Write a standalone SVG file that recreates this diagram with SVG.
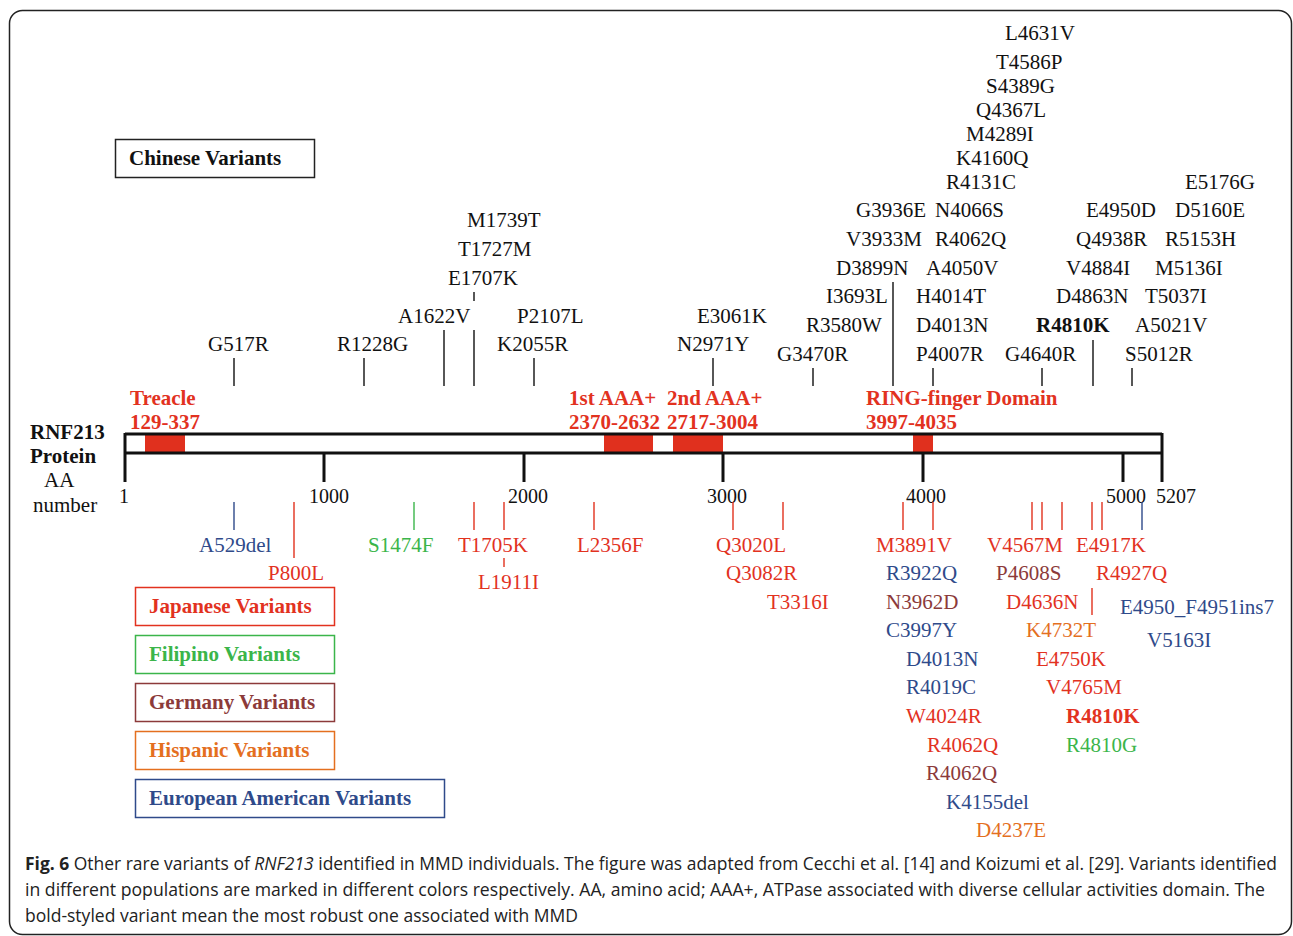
<svg xmlns="http://www.w3.org/2000/svg" width="1293" height="936" viewBox="0 0 1293 936">
<style>
text{font-family:"Liberation Serif","Times New Roman",serif;font-size:21px;fill:#111}
.b{font-weight:bold}
.r{fill:#e2321f}.g{fill:#3bb54a}.br{fill:#8c3a3a}.o{fill:#e46f1f}.bl{fill:#2f4a8a}
.dom{font-weight:bold;fill:#e2321f;font-size:21px}
.leg{font-weight:bold;font-size:21px}
.tick{font-size:20px}
.ln{stroke:#111;stroke-width:1.4;fill:none}
.lr{stroke:#e2321f;stroke-width:1.4}.lg{stroke:#3bb54a;stroke-width:1.4}.lb{stroke:#2f4a8a;stroke-width:1.4}
.cap{font-family:"Open Sans","Liberation Sans",sans-serif;font-size:17.5px;fill:#222}
</style>
<rect x="9.5" y="10.5" width="1282" height="924" rx="13" fill="#fff" stroke="#222" stroke-width="1.5"/>

<g id="protein">
<rect x="145" y="434" width="40" height="19" fill="#e0301e"/>
<rect x="604" y="434" width="49" height="19" fill="#e0301e"/>
<rect x="673" y="434" width="50" height="19" fill="#e0301e"/>
<rect x="913" y="434" width="20" height="19" fill="#e0301e"/>
<path d="M125 434H1162M125 453H1162M125 433V482M1162 433V482M324 453V482M524 453V482M723 453V482M923 453V482M1123 453V482" stroke="#111" stroke-width="3" fill="none"/>
<text x="30" y="439" class="b">RNF213</text>
<text x="30" y="463" class="b">Protein</text>
<text x="44" y="487">AA</text>
<text x="33" y="512">number</text>
<text x="119" y="503" class="tick">1</text>
<text x="309" y="503" class="tick">1000</text>
<text x="508" y="503" class="tick">2000</text>
<text x="707" y="503" class="tick">3000</text>
<text x="906" y="503" class="tick">4000</text>
<text x="1106" y="503" class="tick">5000</text>
<text x="1156" y="503" class="tick">5207</text>
</g>

<g id="domains">
<text x="130" y="405" class="dom">Treacle</text>
<text x="130" y="429" class="dom">129-337</text>
<text x="569" y="405" class="dom">1st AAA+</text>
<text x="569" y="429" class="dom">2370-2632</text>
<text x="667" y="405" class="dom">2nd AAA+</text>
<text x="667" y="429" class="dom">2717-3004</text>
<text x="866" y="405" class="dom">RING-finger Domain</text>
<text x="866" y="429" class="dom">3997-4035</text>
</g>

<g id="connectors">
<path class="ln" d="M234 358V386M364 358V386M444 330V386M474 292V301M474 330V386M534 358V386M713 358V386M813 368V386M893 282V386M933 368V386M1042 368V386M1093 340V386M1132 368V386"/>
<path class="lb" d="M234 502V530M1142 502V530"/>
<path class="lg" d="M414 502V530"/>
<path class="lr" d="M294 502V558M474 502V530M504 502V530M504 558V567M594 502V530M733 502V530M783 502V530M903 502V530M933 502V530M1032 502V530M1042 502V530M1062 502V530M1092 502V530M1102 502V530M1092 588V615"/>
</g>

<g id="chinese-variants">
<text x="208" y="351">G517R</text>
<text x="337" y="351">R1228G</text>
<text x="398" y="323">A1622V</text>
<text x="448" y="285">E1707K</text>
<text x="458" y="256">T1727M</text>
<text x="467" y="227">M1739T</text>
<text x="517" y="323">P2107L</text>
<text x="497" y="351">K2055R</text>
<text x="697" y="323">E3061K</text>
<text x="677" y="351">N2971Y</text>
<text x="777" y="361">G3470R</text>
<text x="806" y="332">R3580W</text>
<text x="826" y="303">I3693L</text>
<text x="836" y="275">D3899N</text>
<text x="846" y="246">V3933M</text>
<text x="856" y="217">G3936E</text>
<text x="935" y="217">N4066S</text>
<text x="935" y="246">R4062Q</text>
<text x="926" y="275">A4050V</text>
<text x="916" y="303">H4014T</text>
<text x="916" y="332">D4013N</text>
<text x="916" y="361">P4007R</text>
<text x="946" y="189">R4131C</text>
<text x="956" y="165">K4160Q</text>
<text x="966" y="141">M4289I</text>
<text x="976" y="117">Q4367L</text>
<text x="986" y="93">S4389G</text>
<text x="996" y="69">T4586P</text>
<text x="1005" y="40">L4631V</text>
<text x="1005" y="361">G4640R</text>
<text x="1036" y="332" class="b">R4810K</text>
<text x="1056" y="303">D4863N</text>
<text x="1066" y="275">V4884I</text>
<text x="1076" y="246">Q4938R</text>
<text x="1086" y="217">E4950D</text>
<text x="1125" y="361">S5012R</text>
<text x="1135" y="332">A5021V</text>
<text x="1145" y="303">T5037I</text>
<text x="1155" y="275">M5136I</text>
<text x="1165" y="246">R5153H</text>
<text x="1175" y="217">D5160E</text>
<text x="1185" y="189">E5176G</text>
</g>

<g id="other-variants">
<text x="199" y="552" class="bl">A529del</text>
<text x="268" y="580" class="r">P800L</text>
<text x="368" y="552" class="g">S1474F</text>
<text x="458" y="552" class="r">T1705K</text>
<text x="478" y="589" class="r">L1911I</text>
<text x="577" y="552" class="r">L2356F</text>
<text x="716" y="552" class="r">Q3020L</text>
<text x="726" y="580" class="r">Q3082R</text>
<text x="767" y="609" class="r">T3316I</text>
<text x="876" y="552" class="r">M3891V</text>
<text x="886" y="580" class="bl">R3922Q</text>
<text x="886" y="609" class="br">N3962D</text>
<text x="886" y="637" class="bl">C3997Y</text>
<text x="906" y="666" class="bl">D4013N</text>
<text x="906" y="694" class="bl">R4019C</text>
<text x="906" y="723" class="r">W4024R</text>
<text x="927" y="752" class="r">R4062Q</text>
<text x="926" y="780" class="br">R4062Q</text>
<text x="946" y="809" class="bl">K4155del</text>
<text x="976" y="837" class="o">D4237E</text>
<text x="987" y="552" class="r">V4567M</text>
<text x="996" y="580" class="br">P4608S</text>
<text x="1006" y="609" class="r">D4636N</text>
<text x="1026" y="637" class="o">K4732T</text>
<text x="1036" y="666" class="r">E4750K</text>
<text x="1046" y="694" class="r">V4765M</text>
<text x="1066" y="723" class="r b">R4810K</text>
<text x="1066" y="752" class="g">R4810G</text>
<text x="1076" y="552" class="r">E4917K</text>
<text x="1096" y="580" class="r">R4927Q</text>
<text x="1120" y="614" class="bl">E4950_F4951ins7</text>
<text x="1147" y="647" class="bl">V5163I</text>
</g>

<g id="legend-chinese">
<rect x="115.5" y="139.5" width="199" height="38" fill="none" stroke="#222" stroke-width="1.5"/>
<text x="129" y="165" class="leg">Chinese Variants</text>
</g>
<g id="legend-japanese">
<rect x="135.5" y="587.5" width="199" height="38" fill="none" stroke="#e2321f" stroke-width="1.5"/>
<text x="149" y="613" class="leg r">Japanese Variants</text>
</g>
<g id="legend-filipino">
<rect x="135.5" y="635.5" width="199" height="38" fill="none" stroke="#3bb54a" stroke-width="1.5"/>
<text x="149" y="661" class="leg g">Filipino Variants</text>
</g>
<g id="legend-germany">
<rect x="135.5" y="683.5" width="199" height="38" fill="none" stroke="#8c3a3a" stroke-width="1.5"/>
<text x="149" y="709" class="leg br">Germany Variants</text>
</g>
<g id="legend-hispanic">
<rect x="135.5" y="731.5" width="199" height="38" fill="none" stroke="#e46f1f" stroke-width="1.5"/>
<text x="149" y="757" class="leg o">Hispanic Variants</text>
</g>
<g id="legend-european">
<rect x="135.5" y="779.5" width="309" height="38" fill="none" stroke="#2f4a8a" stroke-width="1.5"/>
<text x="149" y="805" class="leg bl">European American Variants</text>
</g>

<g id="caption">
<text x="25" y="870" class="cap" textLength="1252" lengthAdjust="spacingAndGlyphs"><tspan font-weight="bold">Fig. 6</tspan> Other rare variants of <tspan font-style="italic">RNF213</tspan> identified in MMD individuals. The figure was adapted from Cecchi et al. [14] and Koizumi et al. [29]. Variants identified</text>
<text x="25" y="896" class="cap" textLength="1240" lengthAdjust="spacingAndGlyphs">in different populations are marked in different colors respectively. AA, amino acid; AAA+, ATPase associated with diverse cellular activities domain. The</text>
<text x="25" y="922" class="cap" textLength="553" lengthAdjust="spacingAndGlyphs">bold-styled variant mean the most robust one associated with MMD</text>
</g>
</svg>
